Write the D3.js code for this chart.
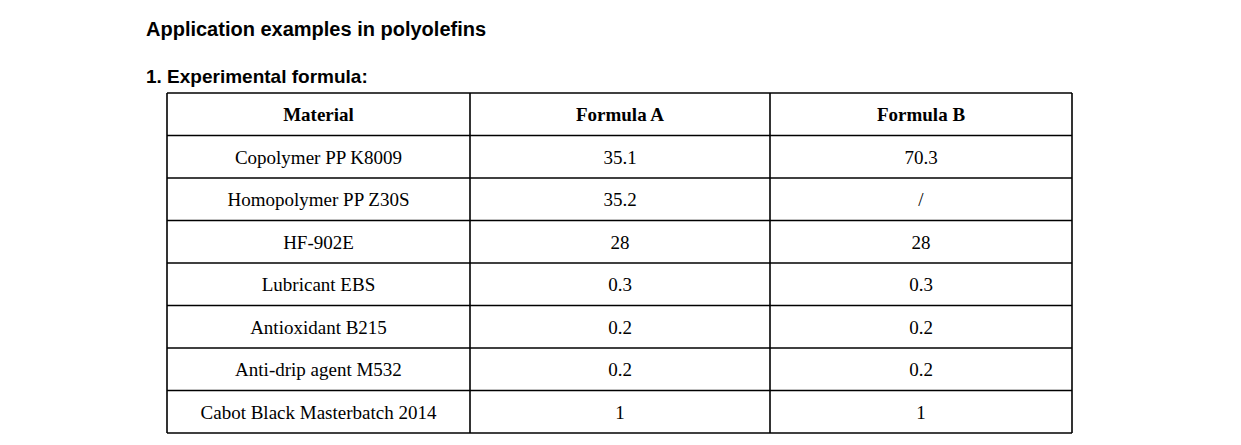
<!DOCTYPE html>
<html>
<head>
<meta charset="utf-8">
<script src="https://cdn.jsdelivr.net/npm/d3@7"></script>
<style>
  body { margin: 0; background: #fff; }
</style>
</head>
<body>
<svg id="chart" width="1241" height="445"></svg>
<script>
const headers = ['Material', 'Formula A', 'Formula B'];
const materials = ['Copolymer PP K8009', 'Homopolymer PP Z30S', 'HF-902E', 'Lubricant EBS',
  'Antioxidant B215', 'Anti-drip agent M532', 'Cabot Black Masterbatch 2014'];
const formulaA = ['35.1', '35.2', '28', '0.3', '0.2', '0.2', '1'];
const formulaB = ['70.3', '/', '28', '0.3', '0.2', '0.2', '1'];

const svg = d3.select('#chart');
const colEdges = [167, 470, 770, 1072];
const tableTop = 93, tableBottom = 433;

svg.append('text').attr('x', 146).attr('y', 36)
  .style('font', 'bold 20px "Liberation Sans", Arial, sans-serif')
  .text('Application examples in polyolefins');
svg.append('text').attr('x', 146).attr('y', 83)
  .style('font', 'bold 19px "Liberation Sans", Arial, sans-serif')
  .text('1. Experimental formula:');

const rowKeys = ['header'].concat(materials);
const y = d3.scaleBand().domain(rowKeys).range([tableTop, tableBottom]);
const rows = [headers].concat(materials.map((m, i) => [m, formulaA[i], formulaB[i]]));

const g = svg.append('g');
rows.forEach((r, ri) => {
  r.forEach((cell, ci) => {
    g.append('text')
      .attr('x', (colEdges[ci] + colEdges[ci + 1]) / 2)
      .attr('y', y(rowKeys[ri]) + y.bandwidth() / 2 + 7)
      .attr('text-anchor', 'middle')
      .style('font', (ri === 0 ? 'bold ' : '') + '19px "Liberation Serif", "Times New Roman", serif')
      .text(cell);
  });
});

// grid lines
rowKeys.concat(['end']).forEach((k, i) => {
  const yy = i < rowKeys.length ? y(k) : tableBottom;
  g.append('line').attr('x1', colEdges[0]).attr('x2', colEdges[3])
    .attr('y1', yy).attr('y2', yy).attr('stroke', '#000').attr('stroke-width', 1.6);
});
colEdges.forEach(x => {
  g.append('line').attr('x1', x).attr('x2', x).attr('y1', tableTop).attr('y2', tableBottom)
    .attr('stroke', '#000').attr('stroke-width', 1.6);
});
</script>
</body>
</html>
